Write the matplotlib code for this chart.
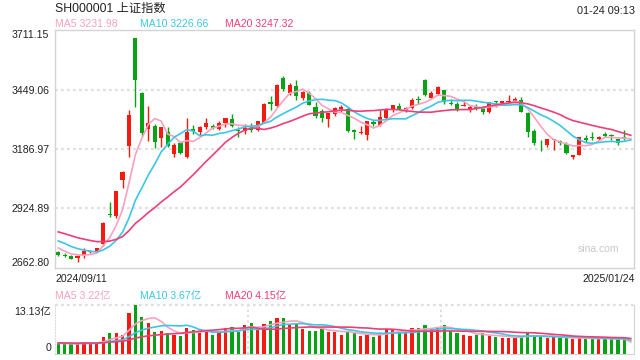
import numpy as np
import pandas as pd
import matplotlib
matplotlib.use("Agg")
import matplotlib.pyplot as plt

plt.rcParams["font.family"] = ["Liberation Sans", "Noto Sans CJK SC"]

RED = "#f31a0f"
GREEN = "#08a314"
C_MA5 = "#f8a2c0"
C_MA10 = "#3cc6e6"
C_MA20 = "#ec3f78"
GRID = "#dedede"
FRAME = "#d4d4d4"
TXT = "#222222"

# closes before the first visible day (for the moving averages)
prev_close = [2877.36, 2879.43, 2893.67, 2866.66, 2856.58, 2848.77, 2854.37, 2855.52,
              2848.79, 2837.43, 2823.11, 2842.21, 2811.04, 2802.98, 2784.28, 2788.31,
              2765.81, 2736.49, 2744.19]
prev_vol = [3.2, 2.9, 3.0, 3.1, 2.9, 2.8, 2.7, 2.9, 2.8, 3.0, 3.1, 3.8, 3.2, 2.9, 2.8,
            2.9, 2.8, 2.9, 2.7]

dates = ["2024/09/11", "2024/09/12", "2024/09/13", "2024/09/18", "2024/09/19", "2024/09/20",
         "2024/09/23", "2024/09/24", "2024/09/25", "2024/09/26", "2024/09/27", "2024/09/30",
         "2024/10/08", "2024/10/09", "2024/10/10", "2024/10/11", "2024/10/14", "2024/10/15",
         "2024/10/16", "2024/10/17", "2024/10/18", "2024/10/21", "2024/10/22", "2024/10/23",
         "2024/10/24", "2024/10/25", "2024/10/28", "2024/10/29", "2024/10/30", "2024/10/31",
         "2024/11/01", "2024/11/04", "2024/11/05", "2024/11/06", "2024/11/07", "2024/11/08",
         "2024/11/11", "2024/11/12", "2024/11/13", "2024/11/14", "2024/11/15", "2024/11/18",
         "2024/11/19", "2024/11/20", "2024/11/21", "2024/11/22", "2024/11/25", "2024/11/26",
         "2024/11/27", "2024/11/28", "2024/11/29", "2024/12/02", "2024/12/03", "2024/12/04",
         "2024/12/05", "2024/12/06", "2024/12/09", "2024/12/10", "2024/12/11", "2024/12/12",
         "2024/12/13", "2024/12/16", "2024/12/17", "2024/12/18", "2024/12/19", "2024/12/20",
         "2024/12/23", "2024/12/24", "2024/12/25", "2024/12/26", "2024/12/27", "2024/12/30",
         "2024/12/31", "2025/01/02", "2025/01/03", "2025/01/06", "2025/01/07", "2025/01/08",
         "2025/01/09", "2025/01/10", "2025/01/13", "2025/01/14", "2025/01/15", "2025/01/16",
         "2025/01/17", "2025/01/20", "2025/01/21", "2025/01/22", "2025/01/23", "2025/01/24"]

open_ = [2735, 2720, 2716, 2705, 2718, 2734, 2736, 2770, 2901, 2893, 3049, 3200,
         3674.40, 3433, 3276, 3290, 3236, 3260, 3167, 3215, 3152, 3273, 3262, 3283,
         3290, 3276, 3300, 3320, 3272, 3266, 3277, 3270, 3302, 3395, 3376, 3500,
         3435, 3466, 3410, 3435, 3370, 3353, 3320, 3340, 3364, 3364, 3272, 3256,
         3250, 3306, 3292, 3324, 3360, 3376, 3360, 3366, 3408, 3490, 3412, 3430,
         3445, 3390, 3383, 3377, 3360, 3372, 3372, 3352, 3395, 3391, 3395, 3398,
         3402, 3347, 3267, 3208, 3203, 3226, 3222, 3207, 3150, 3161, 3236, 3240,
         3232, 3253, 3250, 3232, 3238, 3230.16]
high = [2738, 2727, 2719, 2720, 2749, 2741, 2753, 2865, 2952, 3001, 3088, 3358,
        3674.40, 3436, 3378, 3296, 3286, 3284, 3213, 3224, 3322, 3291, 3290, 3324,
        3297, 3310, 3325, 3340, 3283, 3295, 3302, 3311, 3388, 3420, 3472, 3509,
        3478, 3493, 3441, 3442, 3393, 3364, 3346, 3370, 3380, 3370, 3276, 3290,
        3310, 3315, 3359, 3368, 3380, 3388, 3372, 3410, 3420, 3495, 3441, 3464,
        3447, 3407, 3393, 3400, 3382, 3385, 3376, 3394, 3398, 3400, 3423, 3414,
        3415, 3351, 3273, 3226, 3230, 3231, 3228, 3216, 3162, 3242, 3247, 3263,
        3245, 3260, 3252, 3234, 3270, 3230.16]
low = [2715, 2712, 2703, 2689.70, 2706, 2730, 2733, 2759, 2889, 2881, 3017, 3152,
       3372, 3246, 3222, 3190, 3196, 3194, 3152, 3166, 3148, 3252, 3248, 3276,
       3273, 3272, 3286, 3282, 3240, 3253, 3260, 3266, 3300, 3360, 3370, 3441,
       3427, 3401, 3401, 3379, 3324, 3308, 3285, 3332, 3350, 3262, 3232, 3254,
       3227, 3288, 3288, 3321, 3350, 3358, 3352, 3363, 3384, 3420, 3410, 3425,
       3385, 3380, 3354, 3375, 3348, 3358, 3340, 3346, 3370, 3384, 3391, 3394,
       3350, 3242, 3205, 3180, 3196, 3182, 3206, 3165, 3140.98, 3160, 3220, 3225,
       3228, 3240, 3225, 3205, 3225, 3230.16]
close = [2721.80, 2717.12, 2704.09, 2717.28, 2736.02, 2736.81, 2748.92, 2863.13, 2896.31,
         3000.95, 3087.53, 3336.50, 3489.78, 3258.86, 3301.93, 3217.74, 3284.32, 3201.29,
         3202.95, 3169.38, 3261.56, 3268.11, 3285.87, 3302.80, 3280.26, 3299.70, 3322.20,
         3286.41, 3266.24, 3279.82, 3272.01, 3310.21, 3386.99, 3383.81, 3470.66, 3452.30,
         3470.07, 3421.97, 3439.28, 3379.84, 3330.73, 3323.85, 3346.01, 3367.99, 3370.40,
         3267.19, 3263.76, 3259.76, 3309.78, 3295.70, 3326.46, 3363.98, 3378.81, 3364.65,
         3368.86, 3404.08, 3402.53, 3422.66, 3432.49, 3461.50, 3391.88, 3386.33, 3361.49,
         3382.21, 3370.03, 3368.07, 3351.26, 3393.53, 3393.35, 3398.08, 3400.14, 3407.33,
         3351.76, 3262.56, 3211.43, 3206.92, 3229.64, 3230.17, 3211.39, 3168.52, 3160.76,
         3240.94, 3227.12, 3236.03, 3241.82, 3244.38, 3242.62, 3213.62, 3230.16, 3230.16]
# volume, 亿
volume = [2.9, 2.7, 2.6, 2.8, 3.3, 2.9, 3.0, 4.5, 5.6, 5.6, 5.0, 11.07,
          13.13, 10.0, 8.3, 6.0, 6.2, 5.6, 5.0, 4.8, 7.0, 6.4, 6.0, 6.4,
          5.0, 5.9, 7.0, 7.3, 6.0, 7.8, 8.3, 6.4, 8.0, 8.8, 9.6, 9.6,
          8.0, 8.3, 6.7, 6.2, 6.2, 7.0, 6.0, 5.9, 5.1, 6.0, 5.6, 4.8,
          5.1, 4.5, 5.7, 6.7, 6.7, 6.2, 5.6, 7.0, 7.0, 7.8, 6.7, 7.0,
          7.8, 6.2, 5.7, 5.1, 4.9, 5.0, 5.6, 4.7, 4.6, 4.3, 4.3, 4.4,
          4.9, 5.6, 4.9, 4.5, 4.4, 4.6, 4.2, 4.5, 3.9, 4.4, 4.1, 4.1,
          4.1, 4.0, 4.0, 3.9, 4.1, 0.1]

price_ticks = [3711.15, 3449.06, 3186.97, 2924.89, 2662.80]
vol_top = 13.13
title = "SH000001 上证指数"
stamp = "01-24 09:13"
ma_text = ["MA5 3231.98", "MA10 3226.66", "MA20 3247.32"]
vma_text = ["MA5 3.22亿", "MA10 3.67亿", "MA20 4.15亿"]

W, H = 640, 360
fig = plt.figure(figsize=(W / 100, H / 100), dpi=100)


def fx(x):
    return x / W


def fy(y):
    return 1 - y / H


n = len(close)
x = np.arange(n)
o = np.array(open_)
c = np.array(close)
up = c > o
cols = np.where(up, RED, GREEN)

ma = {}
for k in (5, 10, 20):
    ma[k] = pd.Series(prev_close + close).rolling(k).mean().to_numpy()[len(prev_close):]
vma = {}
for k in (5, 10, 20):
    vma[k] = pd.Series(prev_vol + volume).rolling(k).mean().to_numpy()[len(prev_vol):]

# price panel
ax = fig.add_axes([fx(55), fy(268), (634 - 55) / W, (268 - 30) / H])
ax.set_xlim(-0.5, n - 0.5)
ax.set_ylim(price_ticks[-1], price_ticks[0])
for t in price_ticks[1:-1]:
    ax.axhline(t, color=GRID, lw=1.6, ls=(0, (1.2, 1.5)), zorder=0)
ax.vlines(x, low, high, colors=cols, lw=1, zorder=2)
ax.bar(x, np.maximum(np.abs(c - o), 3), bottom=np.minimum(o, c), width=0.64,
       color=cols, linewidth=0, zorder=3)
ax.plot(x, ma[5], color=C_MA5, lw=1.2, zorder=4)
ax.plot(x, ma[10], color=C_MA10, lw=1.2, zorder=4)
ax.plot(x, ma[20], color=C_MA20, lw=1.2, zorder=4)
ax.set_xticks([])
ax.set_yticks(price_ticks, [f"{t:.2f}" for t in price_ticks])
ax.tick_params(axis="y", length=0, pad=4, labelsize=7.6, labelcolor=TXT)
labs = ax.get_yticklabels()
labs[0].set_va("top")
labs[-1].set_va("bottom")
for s in ax.spines.values():
    s.set_color(FRAME)
    s.set_linewidth(1)
ax.text(0.975, 0.08, "sina.com", transform=ax.transAxes, ha="right", va="center",
        fontsize=7.5, color="#c9c9c9")

# volume panel
vb = 354
axv = fig.add_axes([fx(55), fy(vb), (634 - 55) / W, (vb - 305) / H])
axv.set_xlim(-0.5, n - 0.5)
axv.set_ylim(0, vol_top)
axv.axhline(vol_top, color=GRID, lw=1.6, ls=(0, (1.2, 1.5)), zorder=0, clip_on=False)
for gx in (n / 3 - 0.5, 2 * n / 3 - 0.5):
    axv.axvline(gx, color=GRID, lw=1.4, ls=(0, (1.2, 1.5)), zorder=0)
axv.bar(x, volume, width=0.5, color=cols, linewidth=0, zorder=2)
axv.plot(x, vma[5], color=C_MA5, lw=1.2, zorder=3)
axv.plot(x, vma[10], color=C_MA10, lw=1.2, zorder=3)
axv.plot(x, vma[20], color=C_MA20, lw=1.2, zorder=3)
axv.set_xticks([])
axv.set_yticks([])
axv.spines["top"].set_visible(False)
axv.spines["bottom"].set_color(FRAME)
axv.spines["left"].set_color(GRID)
axv.spines["left"].set_linestyle((0, (1.2, 1.5)))
axv.spines["right"].set_color(FRAME)

# texts
fig.text(fx(55), fy(8.5), title, fontsize=8.8, color=TXT, va="center", ha="left")
fig.text(fx(635), fy(11.5), stamp, fontsize=7.8, color=TXT, va="center", ha="right")
for t, px, col in zip(ma_text, (55, 140, 225), (C_MA5, C_MA10, C_MA20)):
    fig.text(fx(px), fy(24), t, fontsize=7.6, color=col, va="center", ha="left")
for t, px, col in zip(vma_text, (55, 140, 225), (C_MA5, C_MA10, C_MA20)):
    fig.text(fx(px), fy(295.5), t, fontsize=7.6, color=col, va="center", ha="left")
fig.text(fx(55), fy(279), dates[0], fontsize=7.6, color=TXT, va="center", ha="left")
fig.text(fx(635), fy(279), dates[-1], fontsize=7.6, color=TXT, va="center", ha="right")
fig.text(fx(51), fy(312), f"{vol_top:.2f}亿", fontsize=7.6, color=TXT, va="center", ha="right")
fig.text(fx(51), fy(vb - 6), "0", fontsize=7.6, color=TXT, va="center", ha="right")

fig.savefig("out.png", dpi=100)
